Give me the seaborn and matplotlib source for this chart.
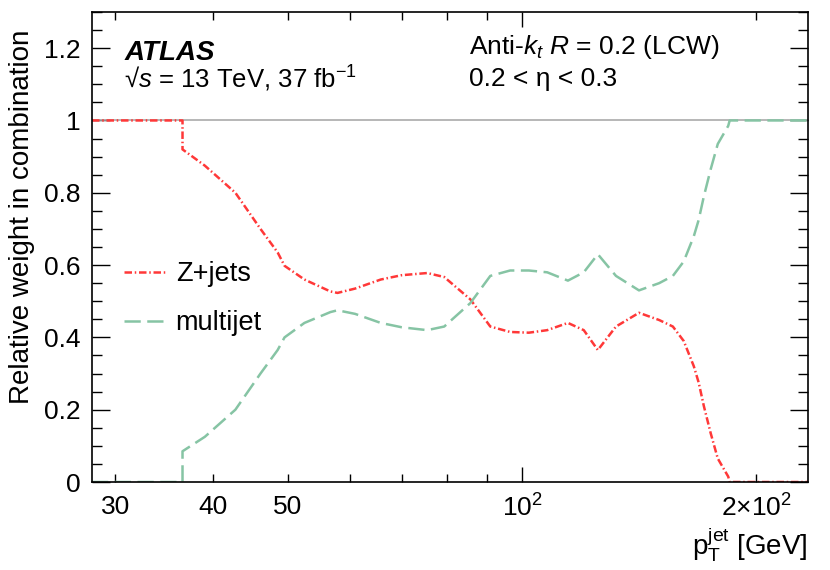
import numpy as np
import pandas as pd
import matplotlib
matplotlib.use("Agg")
import matplotlib.pyplot as plt
import matplotlib.ticker as mticker
import seaborn as sns

# jet pT bin positions [GeV]
pt = [28, 36.6, 36.6, 39.1, 42.8, 46.1, 48.5, 49.5, 52.5, 56.7, 57.9, 61, 65.8,
      70, 75.5, 79.4, 85.8, 91.0, 96.5, 102, 107.7, 114.5, 120, 125.1, 132,
      141.3, 150, 156.2, 161.3, 166.2, 168.6, 171.2, 174.7, 178.4, 184.0, 184.8, 233]

# relative weights
zjets = [1.0, 1.0, 0.92, 0.875, 0.80, 0.70, 0.635, 0.598, 0.56, 0.527, 0.523, 0.535, 0.56,
         0.572, 0.578, 0.567, 0.505, 0.43, 0.415, 0.413, 0.42, 0.44, 0.42, 0.365, 0.43,
         0.468, 0.448, 0.43, 0.39, 0.32, 0.275, 0.21, 0.135, 0.065, 0.015, 0.0, 0.0]
multijet = [0.0, 0.0, 0.085, 0.125, 0.20, 0.30, 0.365, 0.40, 0.44, 0.47, 0.475, 0.465, 0.44,
            0.428, 0.42, 0.43, 0.495, 0.57, 0.585, 0.585, 0.58, 0.557, 0.58, 0.63, 0.57,
            0.53, 0.55, 0.57, 0.61, 0.68, 0.725, 0.79, 0.865, 0.935, 0.985, 1.0, 1.0]

series = ["Z+jets", "multijet"]
colors = {"Z+jets": "#ff3838", "multijet": "#86c4a4"}
dash_styles = {"Z+jets": (3.0, 1.1, 0.6, 1.1), "multijet": (6.5, 2.6)}

df = pd.concat([
    pd.DataFrame({"pt": pt, "weight": zjets, "sample": "Z+jets"}),
    pd.DataFrame({"pt": pt, "weight": multijet, "sample": "multijet"}),
])

sns.set_theme(style="ticks")
plt.rcParams["font.family"] = ["Liberation Sans", "DejaVu Sans"]
plt.rcParams["text.color"] = "black"
plt.rcParams["mathtext.fontset"] = "custom"
plt.rcParams["mathtext.rm"] = "Liberation Sans"
plt.rcParams["mathtext.it"] = "Liberation Sans:italic"
plt.rcParams["mathtext.bf"] = "Liberation Sans:bold"

fig = plt.figure(figsize=(8.3, 5.7), dpi=100)
ax = fig.add_axes([92 / 830, 88 / 570, 716 / 830, 470 / 570])

ax.axhline(1.0, color="#aaaaaa", lw=1.2, zorder=1)

sns.lineplot(data=df, x="pt", y="weight", hue="sample", style="sample",
             hue_order=series, style_order=series, palette=colors, dashes=dash_styles,
             estimator=None, sort=False, lw=1.8, ax=ax)

ax.set_xscale("log")
ax.set_xlim(28, 233)
ax.set_ylim(0, 1.3)

# x ticks: only 10^2 gets a long tick, ROOT style
ax.xaxis.set_major_locator(mticker.FixedLocator([100]))
ax.xaxis.set_major_formatter(mticker.FixedFormatter([r"$10^{2}$"]))
minor_pos = [30, 40, 50, 60, 70, 80, 90, 200]
minor_lab = ["30", "40", "50", "", "", "", "", r"$2{\times}10^{2}$"]
ax.xaxis.set_minor_locator(mticker.FixedLocator(minor_pos))
ax.xaxis.set_minor_formatter(mticker.FixedFormatter(minor_lab))

ax.yaxis.set_major_locator(mticker.MultipleLocator(0.2))
ax.yaxis.set_minor_locator(mticker.MultipleLocator(0.05))
ax.yaxis.set_major_formatter(mticker.FuncFormatter(lambda v, _: f"{v:g}"))

ax.tick_params(which="both", direction="in", top=True, right=True,
               labelsize=19, colors="black", width=1.0)
ax.tick_params(axis="x", which="both", pad=9)
ax.tick_params(axis="y", which="both", pad=8)
ax.tick_params(axis="y", which="major", length=13)
ax.tick_params(axis="y", which="minor", length=7)
ax.tick_params(axis="x", which="major", length=11)
ax.tick_params(axis="x", which="minor", length=6)
for s in ax.spines.values():
    s.set_linewidth(1.2)
    s.set_color("black")

ax.set_xlabel("")
ax.set_ylabel("")
fig.text(22 / 830, 1 - 30 / 570, "Relative weight in combination", rotation=90,
         ha="center", va="top", fontsize=20)
fig.text(808 / 830, 1 - 545 / 570, r"$\mathregular{p_{T}^{jet}}$ [GeV]",
         ha="right", va="center", fontsize=20)

# labels
ax.text(0.045, 0.913, "ATLAS", transform=ax.transAxes, fontsize=20,
        fontweight="bold", fontstyle="italic", va="center")
ax.text(0.045, 0.858, "√$s$ = 13 TeV, 37 fb$^{\\mathregular{-1}}$", transform=ax.transAxes,
        fontsize=18.5, va="center")
ax.text(0.526, 0.926, "Anti-$k_{t}$ $R$ = 0.2 (LCW)", transform=ax.transAxes,
        fontsize=19, va="center")
ax.text(0.526, 0.858, "0.2 < η < 0.3", transform=ax.transAxes,
        fontsize=19, va="center")

handles, labels = ax.get_legend_handles_labels()
ax.legend(handles, labels, loc="center left", bbox_to_anchor=(0.045, 0.39),
          frameon=False, fontsize=19.5, handlelength=1.5, handletextpad=0.4,
          labelspacing=0.85, borderpad=0, borderaxespad=0)

fig.savefig("out.png", dpi=100)
